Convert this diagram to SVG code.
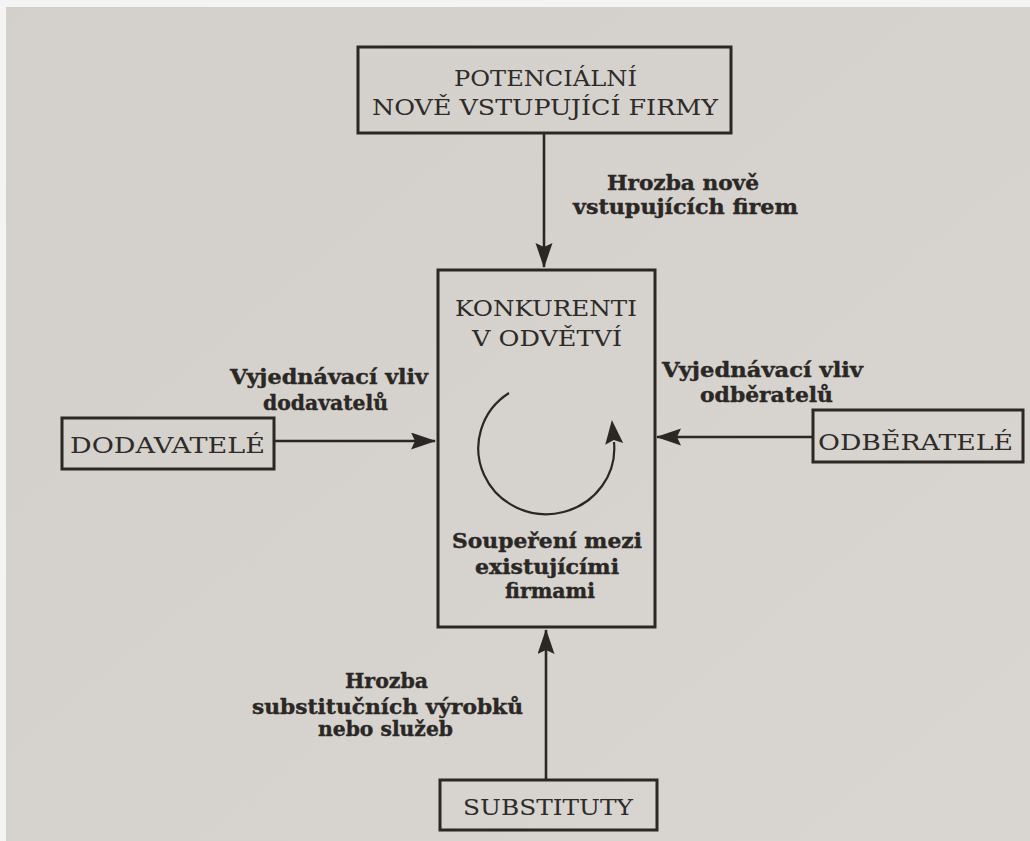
<svg xmlns="http://www.w3.org/2000/svg" width="1030" height="841" viewBox="0 0 1030 841">
<defs>
<linearGradient id="paper" x1="0" y1="0" x2="1" y2="1">
<stop offset="0" stop-color="#d3d0cb"/>
<stop offset="0.5" stop-color="#d6d3ce"/>
<stop offset="1" stop-color="#d9d6d1"/>
</linearGradient>
<marker id="ah" markerUnits="userSpaceOnUse" markerWidth="26" markerHeight="18" refX="24" refY="8.5" orient="auto">
<path d="M0,0 L25,8.5 L0,17 L4,8.5 Z" fill="#2a2725"/>
</marker>
<marker id="ahc" markerUnits="userSpaceOnUse" markerWidth="26" markerHeight="20" refX="2" refY="9" orient="auto">
<path d="M0,0 L24,9 L0,18 L4,9 Z" fill="#2a2725"/>
</marker>
</defs>
<style>
.box{fill:none;stroke:#2a2725;stroke-width:3}
.conn{fill:none;stroke:#2a2725;stroke-width:2.6}
.t{font-family:"DejaVu Serif","Liberation Serif",serif;font-size:23px;fill:#2e2b29;text-anchor:middle}
.b{font-family:"DejaVu Serif","Liberation Serif",serif;font-weight:bold;font-size:20.5px;fill:#2a2725;text-anchor:middle;stroke:#2a2725;stroke-width:0.4}
</style>
<rect x="0" y="0" width="1030" height="841" fill="#f4f4f4"/>
<rect x="6" y="7" width="1024" height="834" fill="url(#paper)"/>

<g id="connectors">
<line class="conn" x1="544" y1="133" x2="544" y2="267" marker-end="url(#ah)"/>
<line class="conn" x1="274" y1="441" x2="435" y2="441" marker-end="url(#ah)"/>
<line class="conn" x1="813" y1="437" x2="657" y2="437" marker-end="url(#ah)"/>
<line class="conn" x1="546" y1="780" x2="546" y2="630" marker-end="url(#ah)"/>
</g>

<g id="entrants">
<rect class="box" x="358" y="47" width="373" height="86"/>
<text class="t" x="545.5" y="86" textLength="183" lengthAdjust="spacingAndGlyphs">POTENCIÁLNÍ</text>
<text class="t" x="545" y="115" textLength="346" lengthAdjust="spacingAndGlyphs">NOVĚ VSTUPUJÍCÍ FIRMY</text>
</g>

<g id="label-entrants">
<text class="b" x="683" y="190" textLength="152" lengthAdjust="spacingAndGlyphs">Hrozba nově</text>
<text class="b" x="685.5" y="214" textLength="225" lengthAdjust="spacingAndGlyphs">vstupujících firem</text>
</g>

<g id="competitors">
<rect class="box" x="438" y="270" width="217" height="357"/>
<text class="t" x="546" y="316" textLength="182" lengthAdjust="spacingAndGlyphs">KONKURENTI</text>
<text class="t" x="547" y="346" textLength="150" lengthAdjust="spacingAndGlyphs">V ODVĚTVÍ</text>
<path class="conn" d="M509,393 A68,66 0 1,0 614,442" marker-end="url(#ahc)" style="stroke-width:2.2"/>
<text class="b" x="547" y="548" textLength="190" lengthAdjust="spacingAndGlyphs">Soupeření mezi</text>
<text class="b" x="547" y="574" textLength="144" lengthAdjust="spacingAndGlyphs">existujícími</text>
<text class="b" x="550" y="598" textLength="90" lengthAdjust="spacingAndGlyphs">firmami</text>
</g>

<g id="suppliers">
<rect class="box" x="62" y="418" width="212" height="51"/>
<text class="t" x="167.5" y="453" textLength="195" lengthAdjust="spacingAndGlyphs">DODAVATELÉ</text>
</g>

<g id="label-suppliers">
<text class="b" x="329" y="384" textLength="198" lengthAdjust="spacingAndGlyphs">Vyjednávací vliv</text>
<text class="b" x="325.5" y="410" textLength="125" lengthAdjust="spacingAndGlyphs">dodavatelů</text>
</g>

<g id="buyers">
<rect class="box" x="813" y="410" width="210" height="52"/>
<text class="t" x="915.5" y="450" textLength="195" lengthAdjust="spacingAndGlyphs">ODBĚRATELÉ</text>
</g>

<g id="label-buyers">
<text class="b" x="762.5" y="377" textLength="201" lengthAdjust="spacingAndGlyphs">Vyjednávací vliv</text>
<text class="b" x="766.5" y="402" textLength="133" lengthAdjust="spacingAndGlyphs">odběratelů</text>
</g>

<g id="substitutes">
<rect class="box" x="440" y="780" width="217" height="50"/>
<text class="t" x="548" y="815" textLength="170" lengthAdjust="spacingAndGlyphs">SUBSTITUTY</text>
</g>

<g id="label-substitutes">
<text class="b" x="386.5" y="688" textLength="83" lengthAdjust="spacingAndGlyphs">Hrozba</text>
<text class="b" x="387.5" y="714" textLength="271" lengthAdjust="spacingAndGlyphs">substitučních výrobků</text>
<text class="b" x="385.5" y="736" textLength="135" lengthAdjust="spacingAndGlyphs">nebo služeb</text>
</g>
</svg>
